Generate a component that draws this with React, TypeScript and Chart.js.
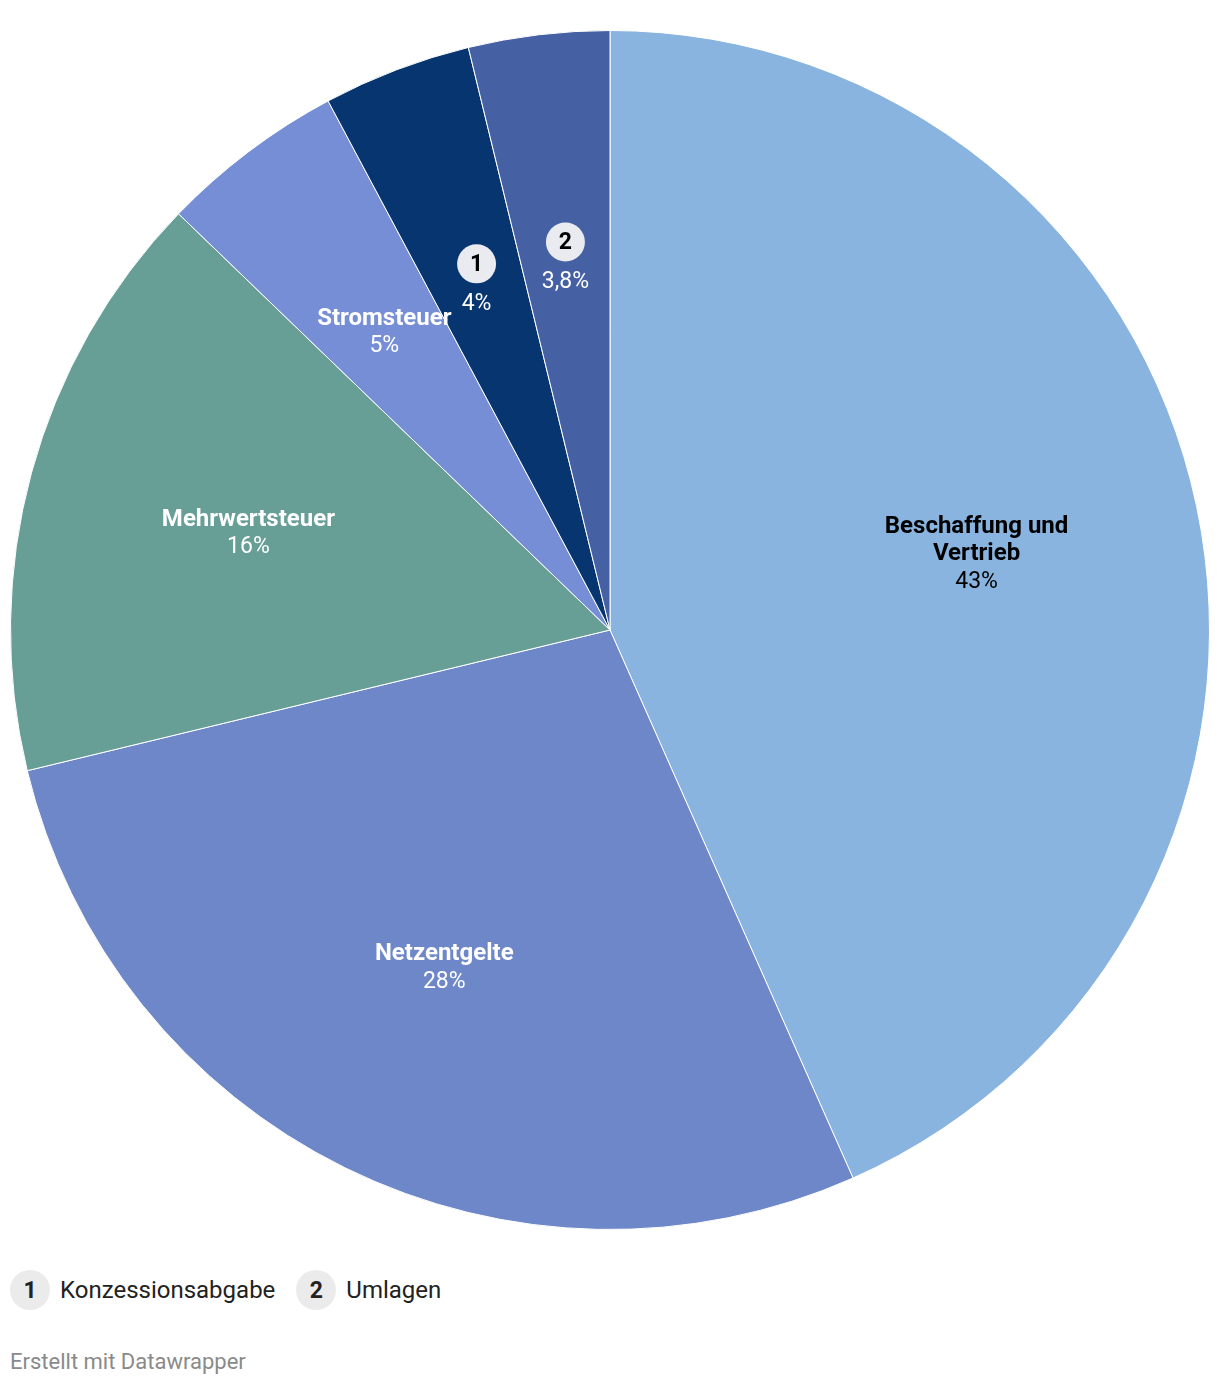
import React, { useEffect, useRef } from "react";
import { Chart, registerables } from "chart.js";

Chart.register(...registerables);

const categories = [
  "Beschaffung und Vertrieb",
  "Netzentgelte",
  "Mehrwertsteuer",
  "Stromsteuer",
  "Konzessionsabgabe",
  "Umlagen",
];
const shares = [43.4, 27.9, 16.0, 5.0, 4.0, 3.8];
const shareLabels = ["43%", "28%", "16%", "5%", "4%", "3,8%"];
const badges = ["", "", "", "", "1", "2"];
const colors = ["#89b4e0", "#6d87c8", "#679f96", "#768ed6", "#07356f", "#4561a3"];
const textColors = ["#000000", "#ffffff", "#ffffff", "#ffffff", "#ffffff", "#ffffff"];
const legendItems = [
  { badge: "1", text: "Konzessionsabgabe" },
  { badge: "2", text: "Umlagen" },
];

const FONT = "Roboto, 'Noto Sans', sans-serif";

function wrap(ctx: CanvasRenderingContext2D, text: string, maxW: number): string[] {
  const words = text.split(" ");
  const lines: string[] = [];
  let cur = "";
  for (const w of words) {
    const t = cur ? cur + " " + w : w;
    if (cur && ctx.measureText(t).width > maxW) {
      lines.push(cur);
      cur = w;
    } else cur = t;
  }
  if (cur) lines.push(cur);
  return lines;
}

const labelPlugin = {
  id: "sliceLabels",
  afterDatasetsDraw(chart: any) {
    const ctx: CanvasRenderingContext2D = chart.ctx;
    const meta = chart.getDatasetMeta(0);
    meta.data.forEach((arc: any, i: number) => {
      const { x, y, startAngle, endAngle, outerRadius } = arc.getProps(
        ["x", "y", "startAngle", "endAngle", "outerRadius"],
        true
      );
      const mid = (startAngle + endAngle) / 2;
      const r = outerRadius * 0.625;
      const cx = x + Math.cos(mid) * r;
      const cy = y + Math.sin(mid) * r + 2;
      ctx.save();
      ctx.textAlign = "center";
      ctx.textBaseline = "middle";
      const lh = 27.5;
      if (badges[i]) {
        ctx.beginPath();
        ctx.arc(cx, cy - 18, 19.5, 0, Math.PI * 2);
        ctx.fillStyle = "#e9ebf1";
        ctx.fill();
        ctx.fillStyle = "#000000";
        ctx.font = `bold 23px ${FONT}`;
        ctx.fillText(badges[i], cx, cy - 17);
        ctx.font = `23px ${FONT}`;
        ctx.fillStyle = textColors[i];
        ctx.fillText(shareLabels[i], cx, cy + 22);
      } else {
        ctx.font = `bold 24px ${FONT}`;
        const lines = wrap(ctx, categories[i], 220);
        const total = lines.length + 1;
        let ly = cy - ((total - 1) * lh) / 2;
        ctx.fillStyle = textColors[i];
        lines.forEach((ln) => {
          ctx.fillText(ln, cx, ly);
          ly += lh;
        });
        ctx.font = `23px ${FONT}`;
        ctx.fillText(shareLabels[i], cx, ly);
      }
      ctx.restore();
    });
  },
};

export default function App() {
  const ref = useRef<HTMLCanvasElement>(null);
  useEffect(() => {
    if (!ref.current) return;
    const chart = new Chart(ref.current, {
      type: "pie",
      data: {
        labels: categories,
        datasets: [
          {
            data: shares,
            backgroundColor: colors,
            borderColor: "#ffffff",
            borderWidth: 1,
          },
        ],
      },
      options: {
        responsive: false,
        animation: false,
        devicePixelRatio: 1,
        layout: { padding: { top: 30, bottom: 10, left: 10, right: 10 } },
        plugins: {
          legend: { display: false },
          tooltip: { enabled: false },
        },
      },
      plugins: [labelPlugin],
    });
    return () => chart.destroy();
  }, []);

  return (
    <div
      style={{
        position: "fixed",
        left: 0,
        top: 0,
        width: 1220,
        height: 1386,
        background: "#ffffff",
        fontFamily: FONT,
      }}
    >
      <canvas ref={ref} width={1220} height={1240} style={{ display: "block" }} />
      <div
        style={{
          position: "absolute",
          left: 10,
          top: 1270,
          height: 40,
          display: "flex",
          alignItems: "center",
        }}
      >
        {legendItems.map((it) => (
          <div key={it.badge} style={{ display: "flex", alignItems: "center", marginRight: 21 }}>
            <div
              style={{
                width: 40,
                height: 40,
                borderRadius: 20,
                background: "#ebebeb",
                display: "flex",
                alignItems: "center",
                justifyContent: "center",
                fontWeight: 700,
                fontSize: 23,
                color: "#222",
              }}
            >
              {it.badge}
            </div>
            <span style={{ marginLeft: 10, fontSize: 24, color: "#222" }}>{it.text}</span>
          </div>
        ))}
      </div>
      <div
        style={{
          position: "absolute",
          left: 10,
          top: 1348,
          fontSize: 22,
          color: "#8a8a8a",
          lineHeight: "28px",
        }}
      >
        Erstellt mit Datawrapper
      </div>
    </div>
  );
}
